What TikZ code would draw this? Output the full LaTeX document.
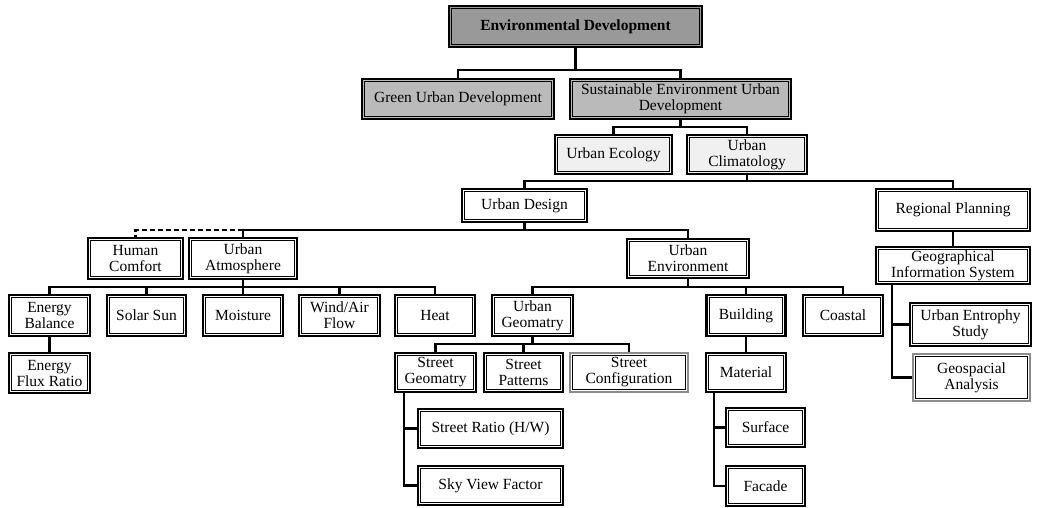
\documentclass[tikz,border=0pt]{standalone}
\usepackage{fontspec}
\setmainfont{Liberation Serif}
\begin{document}
\begin{tikzpicture}[x=1pt, y=-1pt,
    box/.style={draw, line width=2.4pt, inner sep=0pt, align=center,
        font=\fontsize{15.5}{16}\selectfont,
        path picture={\draw[draw=black, line width=0.7pt]
            ([shift={(2.7pt,2.7pt)}]path picture bounding box.south west) rectangle
            ([shift={(-2.7pt,-2.7pt)}]path picture bounding box.north east);}},
    softbox/.style={box, draw=black!45},
    link/.style={line width=2.4pt}]
    \useasboundingbox (0,0) rectangle (1038,507);

    % top of the tree
    \node[box, fill=black!40, minimum width=253pt, minimum height=41pt, font=\fontsize{15.5}{16}\selectfont\bfseries] (envdev) at (575.5,26.5) {Environmental Development};
        \node[box, fill=black!27, minimum width=192pt, minimum height=40pt] (green) at (458,99) {Green Urban Development};
        \node[box, fill=black!27, minimum width=221pt, minimum height=40pt] (sustain) at (680.5,99) {Sustainable Environment Urban\\Development};
            \node[box, fill=black!6, minimum width=117pt, minimum height=39pt] (ecology) at (613.5,154.5) {Urban Ecology};
            \node[box, fill=black!6, minimum width=120pt, minimum height=39pt] (climat) at (747,154.5) {Urban\\Climatology};

    \node[box, minimum width=125pt, minimum height=33pt] (design) at (524.5,205.5) {Urban Design};
    \node[box, minimum width=154pt, minimum height=42pt] (regional) at (953,210) {Regional Planning};
        \node[box, minimum width=154pt, minimum height=37pt] (gis) at (953,265.5) {Geographical\\Information System};
            \node[box, minimum width=121pt, minimum height=43pt] (entropy) at (970.5,324.5) {Urban Entrophy\\Study};
            \node[softbox, minimum width=117pt, minimum height=47pt] (geospatial) at (971.5,377.5) {Geospacial\\Analysis};

    \node[box, minimum width=95pt, minimum height=41pt] (comfort) at (135.5,258.5) {Human\\Comfort};
    \node[box, minimum width=108pt, minimum height=41pt] (atmos) at (243,258.5) {Urban\\Atmosphere};
    \node[box, minimum width=122pt, minimum height=39pt] (environment) at (688,258.5) {Urban\\Environment};

    % row of the climate factors
    \node[box, minimum width=81pt, minimum height=41pt] (energy) at (49.5,315.5) {Energy\\Balance};
    \node[box, minimum width=79pt, minimum height=41pt] (solar) at (146.5,315.5) {Solar Sun};
    \node[box, minimum width=80pt, minimum height=41pt] (moisture) at (243,315.5) {Moisture};
    \node[box, minimum width=81pt, minimum height=41pt] (wind) at (339.5,315.5) {Wind/Air\\Flow};
    \node[box, minimum width=80pt, minimum height=41pt] (heat) at (435,315.5) {Heat};
    \node[box, minimum width=81pt, minimum height=41pt] (geomatry) at (532.5,315.5) {Urban\\Geomatry};
    \node[box, minimum width=79pt, minimum height=41pt] (building) at (746,315.5) {Building};
    \node[box, minimum width=80pt, minimum height=41pt] (coastal) at (843,315.5) {Coastal};

    \node[box, minimum width=81pt, minimum height=40pt] (flux) at (49.5,373) {Energy\\Flux Ratio};
    \node[box, minimum width=81pt, minimum height=39pt] (streetgeo) at (435.5,372.5) {Street\\Geomatry};
    \node[box, minimum width=79pt, minimum height=39pt] (patterns) at (523.5,372.5) {Street\\Patterns};
    \node[softbox, minimum width=118pt, minimum height=39pt] (config) at (629,372.5) {Street\\Configuration};
    \node[box, minimum width=80pt, minimum height=39pt] (material) at (746,372.5) {Material};

    \node[box, minimum width=145pt, minimum height=39pt] (ratio) at (490.5,428.5) {Street Ratio (H/W)};
    \node[box, minimum width=145pt, minimum height=39pt] (sky) at (490.5,485.5) {Sky View Factor};
    \node[box, minimum width=79pt, minimum height=39pt] (surface) at (765.5,427.5) {Surface};
    \node[box, minimum width=79pt, minimum height=40pt] (facade) at (765.5,486) {Facade};

    % connectors
    \draw[link] (envdev.south) -- (envdev.south |- 0,70);
    \draw[link] (green.north) |- (sustain.north |- 0,70) -- (sustain.north);
    \draw[link] (sustain.south) -- (sustain.south |- 0,127);
    \draw[link] (ecology.north) |- (climat.north |- 0,127) -- (climat.north);
    \draw[link] (climat.south) -- (climat.south |- 0,181);
    \draw[link] (design.north) |- (regional.north |- 0,181) -- (regional.north);
    \draw[link] (regional.south) -- (gis.north);
    \draw[link] ([xshift=17pt]gis.south west) coordinate (g0) |- (geospatial.west);
    \draw[link] (g0 |- entropy.west) -- (entropy.west);

    \draw[link] (design.south) -- (design.south |- 0,230) -| (environment.north);
    \draw[link] (design.south |- 0,230) -| (atmos.north);
    \draw[line width=2.4pt, dash pattern=on 5pt off 3pt] (atmos.north |- 0,230) -| (comfort.north);

    \draw[link] (atmos.south) -- (atmos.south |- 0,287);
    \draw[link] (energy.north) |- (heat.north |- 0,287) -- (heat.north);
    \foreach \n in {solar, moisture, wind}
        \draw[link] (\n.north) -- (\n.north |- 0,287);
    \draw[link] (energy.south) -- (flux.north);

    \draw[link] (environment.south) -- (environment.south |- 0,287);
    \draw[link] (geomatry.north) |- (coastal.north |- 0,287) -- (coastal.north);
    \draw[link] (building.north) -- (building.north |- 0,287);
    \draw[link] (building.south) -- (material.north);

    \draw[link] (geomatry.south) -- (geomatry.south |- 0,344);
    \draw[link] (streetgeo.north) |- (config.north |- 0,344) -- (config.north);
    \draw[link] (patterns.north) -- (patterns.north |- 0,344);

    \draw[link] ([xshift=10pt]streetgeo.south west) coordinate (s0) |- (sky.west);
    \draw[link] (s0 |- ratio.west) -- (ratio.west);
    \draw[link] ([xshift=9pt]material.south west) coordinate (m0) |- (facade.west);
    \draw[link] (m0 |- surface.west) -- (surface.west);
\end{tikzpicture}
\end{document}
